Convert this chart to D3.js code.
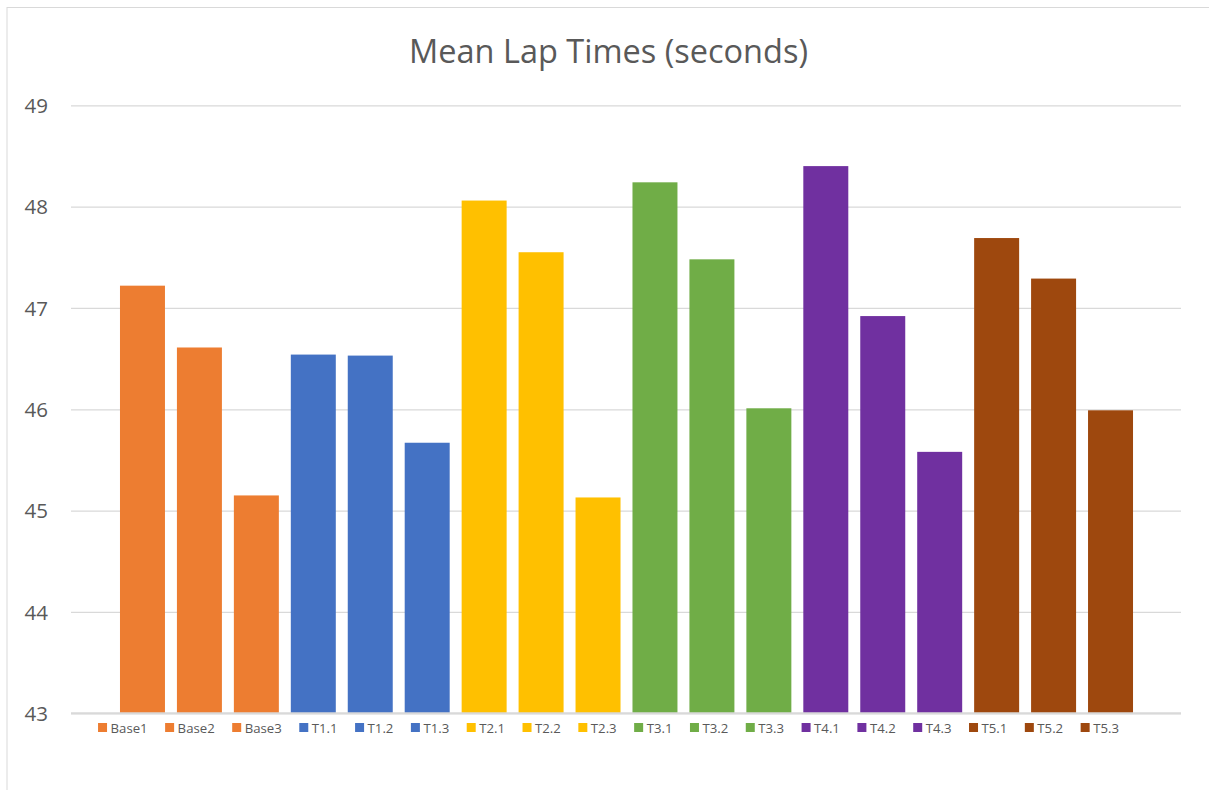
<!DOCTYPE html>
<html>
<head>
<meta charset="utf-8">
<script src="https://cdn.jsdelivr.net/npm/d3@7"></script>
<style>
  html, body { margin: 0; padding: 0; background: #ffffff; }
  svg { display: block; }
</style>
</head>
<body>
<svg id="chart" width="1209" height="790"></svg>
<script>
const title = "Mean Lap Times (seconds)";
const categories = ["Base1","Base2","Base3","T1.1","T1.2","T1.3","T2.1","T2.2","T2.3","T3.1","T3.2","T3.3","T4.1","T4.2","T4.3","T5.1","T5.2","T5.3"];
const values = [47.22, 46.61, 45.15, 46.54, 46.53, 45.67, 48.06, 47.55, 45.13, 48.24, 47.48, 46.01, 48.40, 46.92, 45.58, 47.69, 47.29, 45.99];
const groupOf = ["Base","Base","Base","T1","T1","T1","T2","T2","T2","T3","T3","T3","T4","T4","T4","T5","T5","T5"];
const groups = ["Base","T1","T2","T3","T4","T5"];
const groupColors = ["#ED7D31","#4472C4","#FFC000","#70AD47","#7030A0","#9E480E"];
const yTicks = [43, 44, 45, 46, 47, 48, 49];
const yDomain = [43, 49];

const svg = d3.select("#chart");
const font = "'Open Sans', 'Noto Sans', sans-serif";
const textColor = "#595959";

// chart frame
svg.append("rect").attr("x", 7).attr("y", 7.5).attr("width", 1230).attr("height", 820)
  .attr("fill", "#fff").attr("stroke", "#d9d9d9").attr("stroke-width", 1);

const plot = { left: 71, right: 1181, top: 105.3, bottom: 713.3 };

const y = d3.scaleLinear().domain(yDomain).range([plot.bottom, plot.top]);
const x = d3.scaleBand().domain(categories).range([114, 1139]).paddingInner(0.21).paddingOuter(0.105);
const color = d3.scaleOrdinal().domain(groups).range(groupColors);

// title
svg.append("text").attr("x", 608.5).attr("y", 63).attr("text-anchor", "middle")
  .attr("font-family", font).attr("font-size", 32.5).attr("fill", textColor).text(title);

// gridlines
const yAxis = d3.axisLeft(y).tickValues(yTicks).tickSize(-(plot.right - plot.left)).tickPadding(23).tickFormat(d3.format("d"));
const gy = svg.append("g").attr("transform", `translate(${plot.left},0)`).call(yAxis);
gy.select(".domain").remove();
gy.selectAll(".tick line").attr("stroke", "#d9d9d9").attr("stroke-width", 1.3);
gy.selectAll(".tick text").attr("font-family", font).attr("font-size", 20.5).attr("fill", textColor).attr("dy", "0.35em");

// bars
svg.append("g").selectAll("rect").data(categories).join("rect")
  .attr("x", d => x(d))
  .attr("width", x.bandwidth())
  .attr("y", (d, i) => y(values[i]))
  .attr("height", (d, i) => y(yDomain[0]) - y(values[i]))
  .attr("fill", (d, i) => color(groupOf[i]));

// baseline axis line
const xAxis = d3.axisBottom(x).tickSize(0).tickFormat("");
const gx = svg.append("g").attr("transform", `translate(0,${plot.bottom})`).call(xAxis);
gx.select(".domain").attr("d", `M${plot.left},0H${plot.right}`).attr("stroke", "#d9d9d9").attr("stroke-width", 2);

// legend
const legend = svg.append("g");
const items = legend.selectAll("g").data(categories).join("g");
items.append("rect").attr("width", 9).attr("height", 9).attr("y", -9)
  .attr("fill", (d, i) => color(groupOf[i]));
items.append("text").attr("x", 12.5).attr("y", 0.5)
  .attr("font-family", font).attr("font-size", 13.2).attr("fill", textColor).text(d => d);
let offs = [], cur = 0;
items.each(function(d, i) {
  const tw = d3.select(this).select("text").node().getComputedTextLength();
  offs.push(cur);
  cur += 12.5 + tw + (i < categories.length - 1 ? 17.5 : 0);
});
const legendStart = 608.5 - cur / 2;
items.attr("transform", (d, i) => `translate(${legendStart + offs[i]},732)`);
</script>
</body>
</html>
